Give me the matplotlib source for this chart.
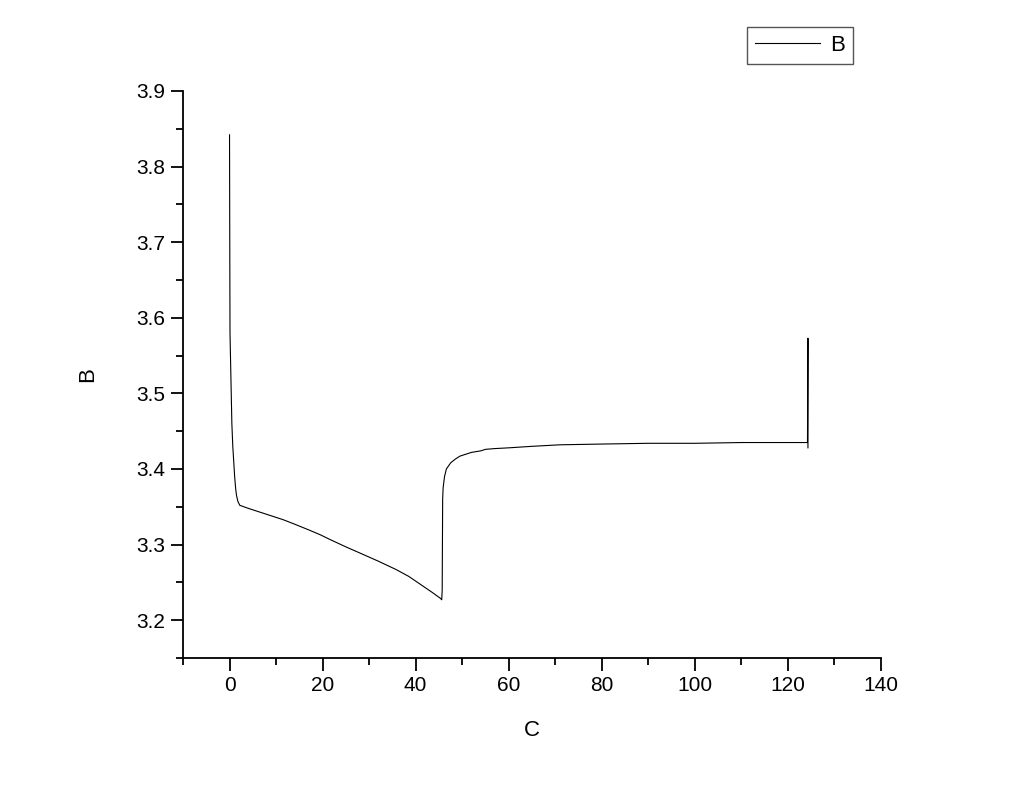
import matplotlib.pyplot as plt
from matplotlib.ticker import MultipleLocator

plt.rcParams['font.family'] = ['Liberation Sans', 'DejaVu Sans']

# curve
c = [0, 0.05, 0.1, 0.3, 0.5, 0.7, 0.9, 1.1, 1.3, 1.5, 1.8, 2.2,
     4.0, 6.5, 9.0, 11.5, 14.0, 17.2, 19.5, 21.5, 25.0, 28.7, 32.0,
     35.8, 38.5, 41.6, 43.5, 45.3, 45.6,
     45.7, 45.75, 45.8, 45.9, 46.2, 46.6, 47.5, 48.5, 49.5, 52, 54,
     55, 57, 60, 65, 71, 80, 90, 100, 110, 124.2, 124.3, 124.3]
b = [3.842, 3.70, 3.58, 3.52, 3.46, 3.43, 3.41, 3.39, 3.375, 3.365, 3.357, 3.352,
     3.348, 3.343, 3.338, 3.333, 3.327, 3.319, 3.313, 3.307, 3.297, 3.287, 3.278,
     3.267, 3.258, 3.245, 3.237, 3.229, 3.227,
     3.24, 3.30, 3.36, 3.375, 3.39, 3.400, 3.408, 3.413, 3.417, 3.422, 3.424,
     3.426, 3.427, 3.428, 3.430, 3.432, 3.433, 3.434, 3.434, 3.435, 3.435, 3.573, 3.428]

fig = plt.figure(figsize=(10.24, 7.9), dpi=100)
ax = fig.add_axes([183/1024, 1-658/790, (881-183)/1024, (658-91)/790])
ax.plot(c, b, color='black', lw=0.8, label='B')

ax.set_xlim(-10, 140)
ax.set_ylim(3.15, 3.9)
ax.xaxis.set_major_locator(MultipleLocator(20))
ax.xaxis.set_minor_locator(MultipleLocator(10))
ax.yaxis.set_major_locator(MultipleLocator(0.1))
ax.yaxis.set_minor_locator(MultipleLocator(0.05))
ax.spines['top'].set_visible(False)
ax.spines['right'].set_visible(False)
for s in ['left', 'bottom']:
    ax.spines[s].set_linewidth(1.3)
ax.tick_params(which='major', direction='out', length=9, width=1.3, labelsize=15, pad=4)
ax.tick_params(which='minor', direction='out', length=5, width=1.3)
ax.set_xlabel('C', fontsize=16, labelpad=18)
ax.set_ylabel('B', fontsize=16, labelpad=27)

fig.legend(loc='upper left', bbox_to_anchor=(747/1024, 1-27/790), borderaxespad=0,
           fontsize=16, handlelength=2.95, handletextpad=0.45, fancybox=False,
           edgecolor='#555555', framealpha=1, borderpad=0.35)

plt.savefig('out.png')
